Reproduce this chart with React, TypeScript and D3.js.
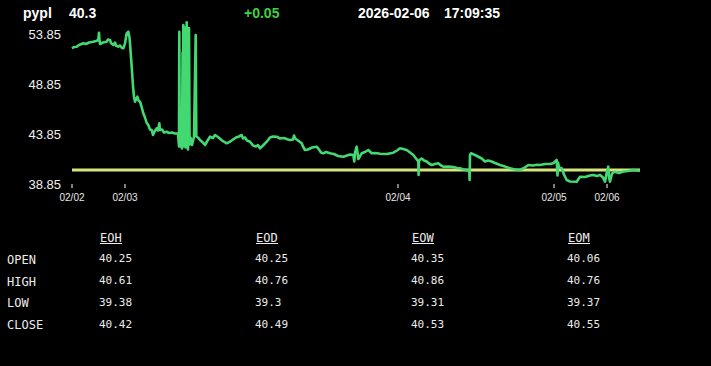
import React from "react";
import * as d3 from "d3";

const symbol = "pypl";
const lastPrice = "40.3";
const change = "+0.05";
const dateStr = "2026-02-06";
const timeStr = "17:09:35";
const openPrice = 40.25;

const yTicks = [53.85, 48.85, 43.85, 38.85];
const xTickPos = [0, 53, 326, 482, 535];
const xTickLabels = ["02/02", "02/03", "02/04", "02/05", "02/06"];

// [time index, price]
const series: [number, number][] = [
  [0, 52.42], [2, 52.55], [4.7, 52.58], [7, 52.75], [11.3, 52.92], [14, 52.85], [17, 53.0],
  [21.3, 53.08], [24, 53.15], [26.3, 53.25], [27, 53.98], [27.5, 53.2], [28, 52.85], [31, 53.0],
  [34.7, 53.08], [36, 53.3], [38, 53.25], [39, 52.95], [41.3, 52.75], [43, 53.0], [44, 52.7],
  [46.3, 52.58], [48, 52.7], [50, 52.45], [51.3, 52.42], [53, 52.92], [54.7, 53.92], [56.3, 54.08],
  [57.5, 53.5], [58, 52.92], [59.7, 50.58], [61, 48.6], [62, 47.58], [63, 47.08], [64, 47.3],
  [65.3, 47.58], [66.5, 47.2], [68, 47.08], [69.5, 46.6], [71.3, 45.92], [73, 45.5], [74.5, 45.0],
  [76.3, 44.75], [78, 44.3], [79.7, 44.25], [81, 43.75], [82.5, 44.1], [84.7, 44.42], [86, 44.2],
  [87.3, 44.92], [88, 44.25], [90, 44.3], [92, 44.0], [94.7, 44.08], [97, 43.95], [100, 44.0],
  [103, 43.9], [106, 43.92], [107, 42.6], [107.3, 54.08], [107.8, 42.6], [109, 43.5], [110, 42.4],
  [110.6, 52.0], [111.0, 42.6], [111.3, 54.75], [112, 43.0], [113, 54.5], [113.5, 42.5],
  [114.0, 53.2], [114.4, 43.0], [114.7, 55.02], [115.3, 43.8], [116, 42.3], [116.5, 53.0],
  [116.8, 43.2], [117, 54.45], [117.6, 42.8], [118.5, 43.5], [120, 42.75], [122, 43.6],
  [123.7, 53.75], [124.3, 43.6], [126, 43.5], [128, 43.25], [130, 43.08], [133, 42.75],
  [135, 43.1], [138, 43.58], [141, 43.45], [143, 43.75], [146, 43.55], [150, 43.2], [154.7, 42.92],
  [158, 43.08], [161, 43.3], [164, 43.5], [167, 43.6], [169.7, 43.75], [171, 43.4], [173, 43.5],
  [175, 43.2], [178, 43.08], [181, 42.7], [184, 42.6], [186, 42.75], [188, 42.42], [191, 42.7],
  [194.7, 43.08], [198, 43.5], [201, 43.6], [204.7, 43.58], [208, 43.4], [212, 43.45], [216, 43.3],
  [218, 43.25], [221, 43.3], [222, 43.7], [223, 43.42], [226, 43.2], [229.7, 42.92], [231, 42.6],
  [233, 42.25], [236, 42.3], [240, 42.5], [244.7, 42.58], [247, 42.3], [249, 42.0], [251.3, 41.92],
  [254, 42.05], [258, 41.92], [262, 41.85], [266, 41.65], [271.3, 41.58], [275, 41.7], [278, 41.8],
  [281.3, 41.75], [282.3, 41.1], [283, 42.0], [284.7, 42.58], [286.3, 41.35], [289.7, 41.92],
  [293, 42.05], [296.3, 42.25], [299.7, 41.92], [304, 41.95], [308, 41.88], [314.7, 41.85],
  [321.3, 41.98], [325, 42.2], [328, 42.42], [331, 42.35], [334.7, 42.25], [338, 42.0],
  [341.3, 41.75], [344, 41.4], [346.3, 41.1], [346.6, 39.75], [347, 41.2], [349.7, 41.4],
  [352, 41.2], [354.7, 41.1], [357, 40.9], [359.7, 40.75], [363, 40.85], [366.3, 40.92],
  [369, 40.7], [371.3, 40.58], [376, 40.6], [381.3, 40.55], [385, 40.45], [388, 40.42],
  [391, 40.3], [394.7, 40.25], [397.3, 40.08], [397.6, 39.25], [398, 41.75], [399, 41.92],
  [403, 41.75], [406, 41.6], [409.7, 41.4], [413, 41.1], [416, 41.2], [419.7, 41.1], [423, 40.95],
  [428, 40.75], [433, 40.6], [438, 40.42], [443, 40.3], [448, 40.25], [452, 40.45], [456.3, 40.75],
  [461, 40.7], [465, 40.78], [468, 40.75], [473, 40.85], [478, 40.85], [481.3, 40.92],
  [484.7, 41.25], [485.5, 39.7], [486, 41.0], [487, 40.5], [489.7, 40.42], [492, 39.8],
  [494.7, 39.25], [498, 39.1], [504.7, 39.08], [508, 39.58], [513, 39.55], [518, 39.7],
  [521.3, 39.75], [525, 39.65], [528, 39.75], [531, 39.5], [533, 39.08], [534.5, 39.9],
  [536.3, 40.58], [537, 39.5], [538, 39.08], [540, 39.9], [543, 40.08], [547, 39.95],
  [551.3, 40.1], [556, 40.15], [561.3, 40.25], [565, 40.2], [568, 40.18],
];

const columns = ["EOH", "EOD", "EOW", "EOM"];
const rowLabels = ["OPEN", "HIGH", "LOW", "CLOSE"];
const eohValues = ["40.25", "40.61", "39.38", "40.42"];
const eodValues = ["40.25", "40.76", "39.3", "40.49"];
const eowValues = ["40.35", "40.86", "39.31", "40.53"];
const eomValues = ["40.06", "40.76", "39.37", "40.55"];
const tableValues = [eohValues, eodValues, eowValues, eomValues];

export default function App() {
  const W = 711, H = 366;
  const x = d3.scaleLinear().domain([0, 568]).range([72, 640]);
  const y = d3.scaleLinear().domain([38.85, 53.85]).range([184, 34]);
  const line = d3
    .line<[number, number]>()
    .x((d) => x(d[0]))
    .y((d) => y(d[1]));

  const sans = "Arial, 'Liberation Sans', sans-serif";
  const mono = "'DejaVu Sans Mono', 'Liberation Mono', monospace";
  const colX = [99, 255, 411, 567];
  const labelBase = [264, 285.5, 307, 329];
  const valueBase = [262, 284, 306, 327.5];

  return (
    <div style={{ position: "fixed", left: 0, top: 0, width: W, height: H, background: "#000" }}>
      <svg width={W} height={H} style={{ display: "block" }}>
        <rect width={W} height={H} fill="#000" />
        <g fontFamily={sans} fontWeight="bold" fontSize={14}>
          <text x={23} y={18} fill="#fff">{symbol}</text>
          <text x={69} y={18} fill="#fff">{lastPrice}</text>
          <text x={244} y={18} fill="#3fcf45">{change}</text>
          <text x={358} y={18} fill="#fff">{dateStr}</text>
          <text x={444} y={18} fill="#fff">{timeStr}</text>
        </g>
        <g fontFamily={sans} fontSize={13} fill="#f0f0f0" textAnchor="end">
          {yTicks.map((t) => (
            <text key={t} x={61} y={y(t)} dy="0.36em">
              {t.toFixed(2)}
            </text>
          ))}
        </g>
        <g>
          {xTickPos.map((t, i) => (
            <g key={i}>
              <line x1={x(t)} x2={x(t)} y1={184} y2={188} stroke="#fff" strokeWidth={1} />
              <text x={x(t)} y={201} fill="#e8e8e8" fontFamily={sans} fontSize={10} textAnchor="middle">
                {xTickLabels[i]}
              </text>
            </g>
          ))}
        </g>
        <line
          x1={x(0)}
          x2={x(568)}
          y1={y(openPrice)}
          y2={y(openPrice)}
          stroke="#d6e67e"
          strokeWidth={3}
        />
        <path d={line(series) || ""} fill="none" stroke="#44d872" strokeWidth={2.6} strokeLinejoin="round" />
        <g fontFamily={mono} fill="#ececec">
          {columns.map((c, i) => (
            <g key={c}>
              <text x={colX[i] + 1} y={241.5} fontSize={12}>{c}</text>
              <line x1={colX[i] + 1} x2={colX[i] + 23} y1={243.5} y2={243.5} stroke="#ececec" strokeWidth={1} />
            </g>
          ))}
          {rowLabels.map((r, j) => (
            <text key={r} x={7} y={labelBase[j]} fontSize={12}>{r}</text>
          ))}
          {tableValues.map((col, i) =>
            col.map((v, j) => (
              <text key={i + "-" + j} x={colX[i]} y={valueBase[j]} fontSize={11}>{v}</text>
            ))
          )}
        </g>
      </svg>
    </div>
  );
}
